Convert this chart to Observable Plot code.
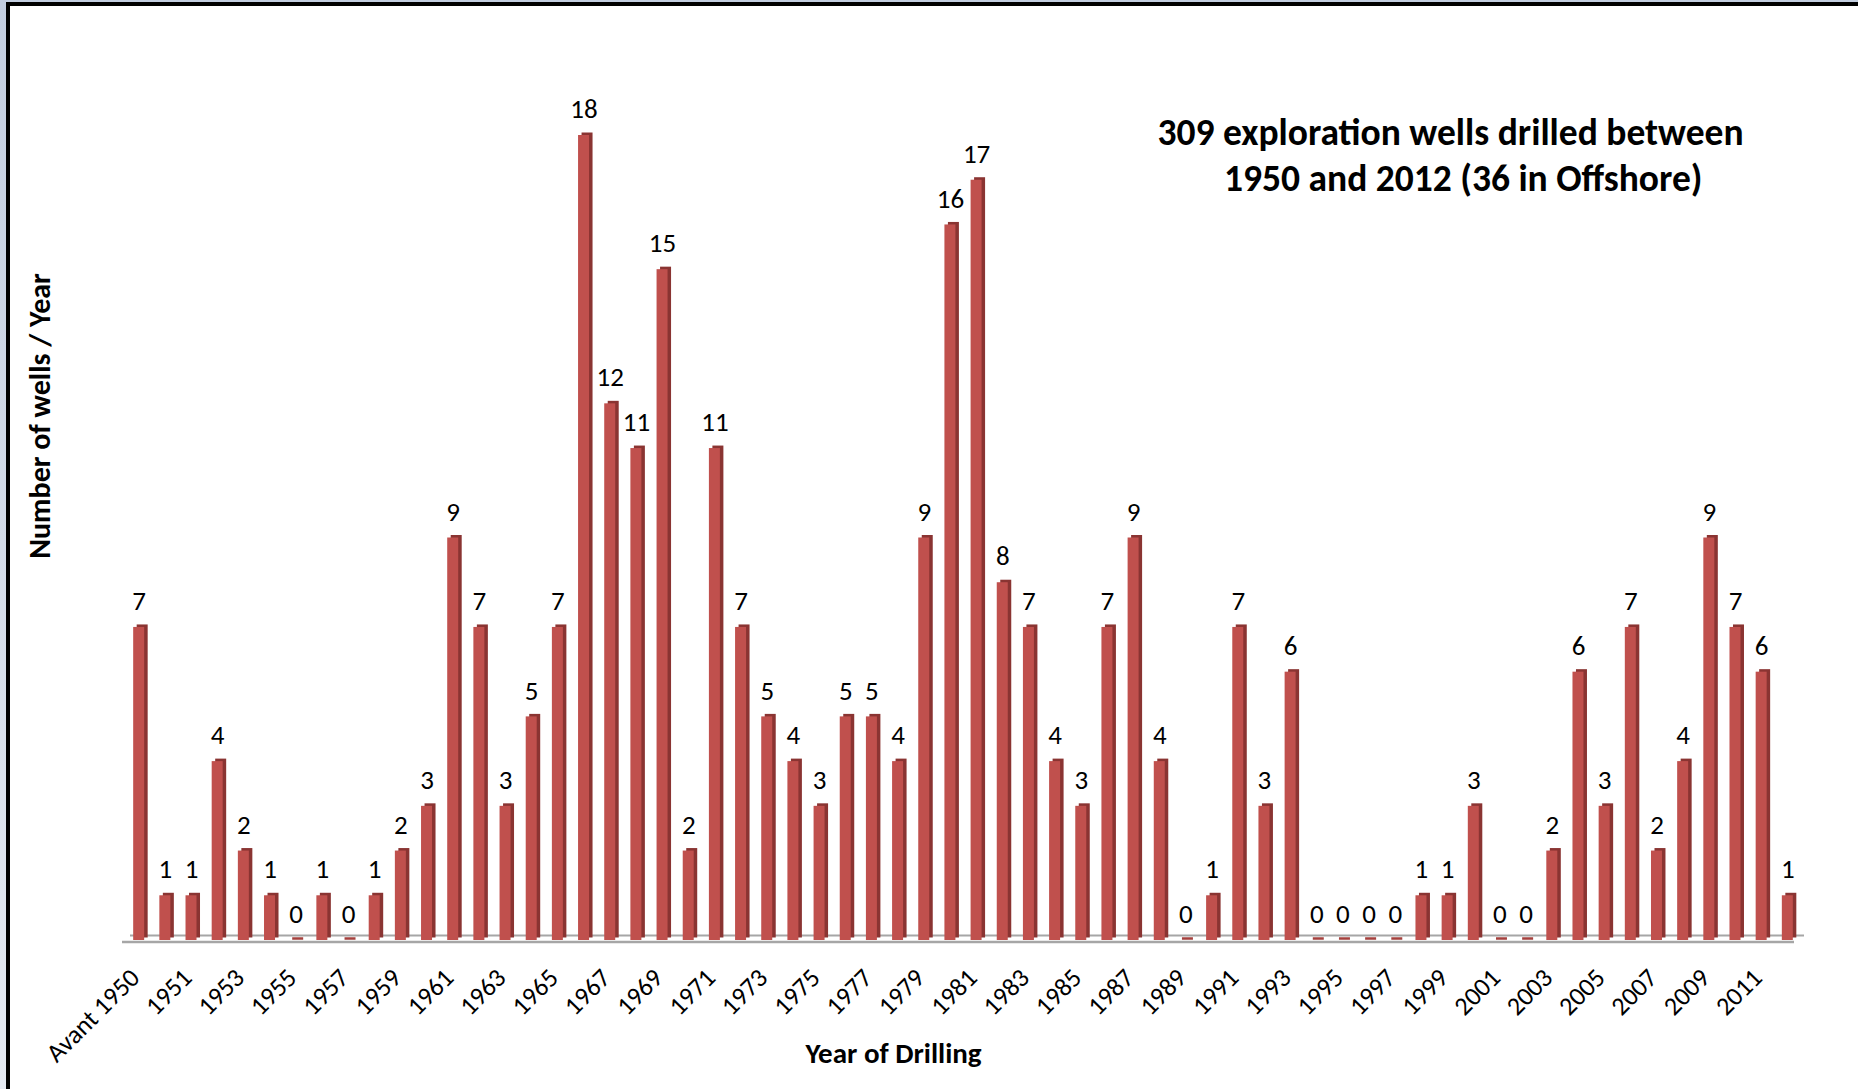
<!DOCTYPE html>
<html>
<head>
<meta charset="utf-8">
<script src="https://cdn.jsdelivr.net/npm/d3@7"></script>
<script src="https://cdn.jsdelivr.net/npm/@observablehq/plot@0.6"></script>
<style>
  html, body { margin: 0; padding: 0; }
  body { width: 1858px; height: 1089px; overflow: hidden; position: relative;
         background: linear-gradient(#c2cddf, #e4e9f1); }
  #panel { position: absolute; left: 6px; top: 2px; right: 0; bottom: 0; background: #fff;
           border-left: 4px solid #000; border-top: 4px solid #000; }
  #chart { position: absolute; left: 0; top: 0; }
  #chart svg { background: transparent; max-width: none; }
</style>
</head>
<body>
<div id="panel"></div>
<div id="chart"></div>
<script>
const years = ["Avant 1950","1950","1951","1952","1953","1954","1955","1956","1957","1958","1959",
  "1960","1961","1962","1963","1964","1965","1966","1967","1968","1969",
  "1970","1971","1972","1973","1974","1975","1976","1977","1978","1979",
  "1980","1981","1982","1983","1984","1985","1986","1987","1988","1989",
  "1990","1991","1992","1993","1994","1995","1996","1997","1998","1999",
  "2000","2001","2002","2003","2004","2005","2006","2007","2008","2009",
  "2010","2011","2012"];
const wells = [7,1,1,4,2,1,0,1,0,1,2,
  3,9,7,3,5,7,18,12,11,15,
  2,11,7,5,4,3,5,5,4,9,
  16,17,8,7,4,3,7,9,4,0,
  1,7,3,6,0,0,0,0,1,1,
  3,0,0,2,6,3,7,2,4,9,
  7,6,1];
const tickLabels = ["Avant 1950","1951","1953","1955","1957","1959","1961","1963","1965","1967","1969",
  "1971","1973","1975","1977","1979","1981","1983","1985","1987","1989",
  "1991","1993","1995","1997","1999","2001","2003","2005","2007","2009","2011"];
const titleText = "309 exploration wells drilled between\n   1950 and 2012 (36 in Offshore)";
const xLabel = "Year of Drilling";
const yLabel = "Number of wells / Year";

const data = years.map((year, i) => ({year, value: wells[i]}));
const zeros = data.filter(d => d.value === 0);
const nonZero = data.filter(d => d.value > 0);
const ticks = tickLabels.map(label => ({label}));

const font = "Carlito, 'Open Sans', sans-serif";

const chart = Plot.plot({
  width: 1858,
  height: 1089,
  marginLeft: 118,
  marginRight: 50,
  marginTop: 135,
  marginBottom: 149,
  style: {fontFamily: font, background: "transparent"},
  x: {type: "band", domain: years, padding: 0.58, round: false, axis: null},
  y: {domain: [0, 18], axis: null},
  marks: [
    // 3D floor
    Plot.ruleY([0], {stroke: "#a6a6a6", strokeWidth: 2.5, dy: 1.5, insetLeft: 4, insetRight: 14}),
    Plot.ruleY([0], {stroke: "#a6a6a6", strokeWidth: 2, dy: -5, insetLeft: 12, insetRight: 4}),
    // zero-value slivers
    Plot.tickY(zeros, {x: "year", y: 0, stroke: "#a5403d", strokeWidth: 2.5, dy: -2, dx: 2}),
    // side/top face of bars
    Plot.barY(nonZero, {x: "year", y: "value", fill: "#8a3432", dx: 3.5, dy: -2.5}),
    // front face
    Plot.barY(nonZero, {x: "year", y: "value", fill: "#c0504d"}),
    // value labels
    Plot.text(data, {x: "year", y: "value", text: d => String(d.value), dy: -26,
      fontSize: 27, fill: "#000"}),
    // rotated tick labels
    Plot.text(ticks, {x: "label", y: 0, text: "label", rotate: -45, textAnchor: "end",
      dx: -4, dy: 33, fontSize: 26, fill: "#000"}),
    // title
    Plot.text([titleText], {frameAnchor: "top", lineAnchor: "middle", textAnchor: "middle",
      dx: 487, dy: 18, fontSize: 37.5, fontWeight: "bold", lineHeight: 1.22, fill: "#000"}),
    // axis titles
    Plot.text([xLabel], {frameAnchor: "bottom", lineAnchor: "middle", textAnchor: "middle",
      dx: -70, dy: 113, fontSize: 29, fontWeight: "bold", fill: "#000"}),
    Plot.text([yLabel], {frameAnchor: "left", lineAnchor: "middle", textAnchor: "middle",
      rotate: -90, dx: -78, dy: -122, fontSize: 30, fontWeight: "bold", fill: "#000"})
  ]
});
document.getElementById("chart").appendChild(chart);
</script>
</body>
</html>
